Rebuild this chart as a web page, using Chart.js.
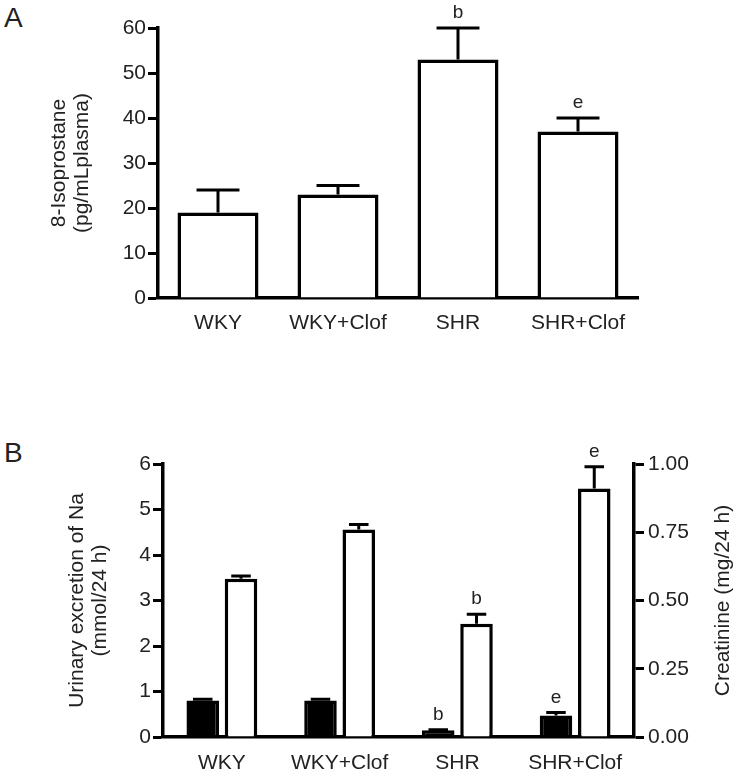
<!DOCTYPE html>
<html>
<head>
<meta charset="utf-8">
<script src="https://cdn.jsdelivr.net/npm/chart.js@4.4.1/dist/chart.umd.min.js"></script>
<style>
  html, body { margin: 0; padding: 0; background: #fff; }
  body { width: 740px; height: 777px; position: relative; overflow: hidden; font-family: "Liberation Sans", Arial, sans-serif; }
  .panel { position: absolute; left: 0; width: 740px; }
  .letter { position: absolute; left: 4px; font-size: 28px; color: #222; }
</style>
</head>
<body>
<div class="letter" style="top: 2px;">A</div>
<div class="letter" style="top: 437px;">B</div>
<div class="panel" style="top: 0; height: 345px;"><canvas id="chartA"></canvas></div>
<div class="panel" style="top: 345px; height: 432px;"><canvas id="chartB"></canvas></div>
<script>
// data
const groups = ['WKY', 'WKY+Clof', 'SHR', 'SHR+Clof'];

const isoMean = [19, 23, 53, 37];
const isoErr = [5, 2, 7, 3];
const isoSig = ['', '', 'b', 'e'];

const naMean = [0.8, 0.8, 0.15, 0.47];
const naErr = [0.03, 0.03, 0.01, 0.07];
const naSig = ['', '', 'b', 'e'];

const crMean = [0.58, 0.76, 0.415, 0.91];
const crErr = [0.01, 0.018, 0.035, 0.08];
const crSig = ['', '', 'b', 'e'];

const font = 'Liberation Sans, Arial, sans-serif';
const ink = '#222';

// error bars + significance letters drawn on top of the bars
const errorBars = {
    id: 'errorBars',
    afterDatasetsDraw(chart, args, opts) {
        const ctx = chart.ctx;
        chart.data.datasets.forEach((ds, di) => {
            const meta = chart.getDatasetMeta(di);
            const yScale = chart.scales[meta.yAxisID];
            meta.data.forEach((bar, i) => {
                const top = yScale.getPixelForValue(ds.data[i] + ds.err[i]);
                const half = bar.width * opts.cap / 2;
                ctx.save();
                ctx.strokeStyle = '#000';
                ctx.lineWidth = 3;
                ctx.beginPath();
                ctx.moveTo(bar.x, bar.y);
                ctx.lineTo(bar.x, top);
                ctx.moveTo(bar.x - half, top);
                ctx.lineTo(bar.x + half, top);
                ctx.stroke();
                if (ds.sig[i]) {
                    ctx.fillStyle = ink;
                    ctx.font = '19px ' + font;
                    ctx.textAlign = 'center';
                    ctx.textBaseline = 'middle';
                    ctx.fillText(ds.sig[i], bar.x, top - 15);
                }
                ctx.restore();
            });
        });
    }
};

// right axis title reads bottom-to-top like the left one
const rightTitle = {
    id: 'rightTitle',
    afterDraw(chart, args, opts) {
        if (!opts.text) return;
        const ctx = chart.ctx;
        const area = chart.chartArea;
        ctx.save();
        ctx.translate(opts.x, (area.top + area.bottom) / 2);
        ctx.rotate(-Math.PI / 2);
        ctx.fillStyle = ink;
        ctx.font = '21px ' + font;
        ctx.textAlign = 'center';
        ctx.textBaseline = 'middle';
        ctx.fillText(opts.text, 0, 0);
        ctx.restore();
    }
};

function yAxis(min, max, step, width, title, titlePad, position, fmt) {
    return {
        position: position,
        min: min, max: max,
        afterFit: s => { s.width = width; },
        ticks: {
            stepSize: step, color: ink, padding: position === 'left' ? 2 : 4,
            font: { family: font, size: 21 },
            callback: fmt || (v => v)
        },
        grid: { drawOnChartArea: false, tickLength: 10, tickWidth: 3, tickColor: '#000' },
        border: { color: '#000', width: 3.5 },
        title: title ? {
            display: true, text: title, color: ink,
            font: { family: font, size: 21, lineHeight: 1.1 },
            padding: { top: titlePad, bottom: 0 }
        } : { display: false }
    };
}

function xAxis(height, pad) {
    return {
        afterFit: s => { s.height = height; },
        grid: { display: false, drawTicks: false },
        border: { color: '#000', width: 3.5 },
        ticks: { color: ink, padding: pad, font: { family: font, size: 21 } }
    };
}

const common = {
    responsive: true,
    maintainAspectRatio: false,
    animation: false,
    plugins: { legend: { display: false }, tooltip: { enabled: false } }
};

// Panel A
new Chart(document.getElementById('chartA'), {
    type: 'bar',
    data: {
        labels: groups,
        datasets: [{
            data: isoMean, err: isoErr, sig: isoSig,
            backgroundColor: '#fff', borderColor: '#000', borderWidth: 3.5,
            categoryPercentage: 1, barPercentage: 0.675
        }]
    },
    options: {
        ...common,
        layout: { padding: { left: 0, right: 102, top: 28, bottom: 0 } },
        plugins: { ...common.plugins, errorBars: { cap: 0.53 } },
        scales: {
            x: xAxis(47, 13),
            y: yAxis(0, 60, 10, 158, ['8-Isoprostane', '(pg/mLplasma)'], 48, 'left')
        }
    },
    plugins: [errorBars]
});

// Panel B
new Chart(document.getElementById('chartB'), {
    type: 'bar',
    data: {
        labels: groups,
        datasets: [{
            data: naMean, err: naErr, sig: naSig, yAxisID: 'y',
            backgroundColor: '#000', borderColor: '#000', borderWidth: 3.5,
            categoryPercentage: 0.65, barPercentage: 0.85
        }, {
            data: crMean, err: crErr, sig: crSig, yAxisID: 'y1',
            backgroundColor: '#fff', borderColor: '#000', borderWidth: 3.5,
            categoryPercentage: 0.65, barPercentage: 0.85
        }]
    },
    options: {
        ...common,
        layout: { padding: { left: 0, right: 0, top: 119, bottom: 0 } },
        plugins: { ...common.plugins, errorBars: { cap: 0.6 }, rightTitle: { text: 'Creatinine (mg/24 h)', x: 723 } },
        scales: {
            x: xAxis(40, 14),
            y: yAxis(0, 6, 1, 163, ['Urinary excretion of Na', '(mmol/24 h)'], 66, 'left'),
            y1: yAxis(0, 1, 0.25, 106, null, 0, 'right', v => v.toFixed(2))
        }
    },
    plugins: [errorBars, rightTitle]
});
</script>
</body>
</html>
